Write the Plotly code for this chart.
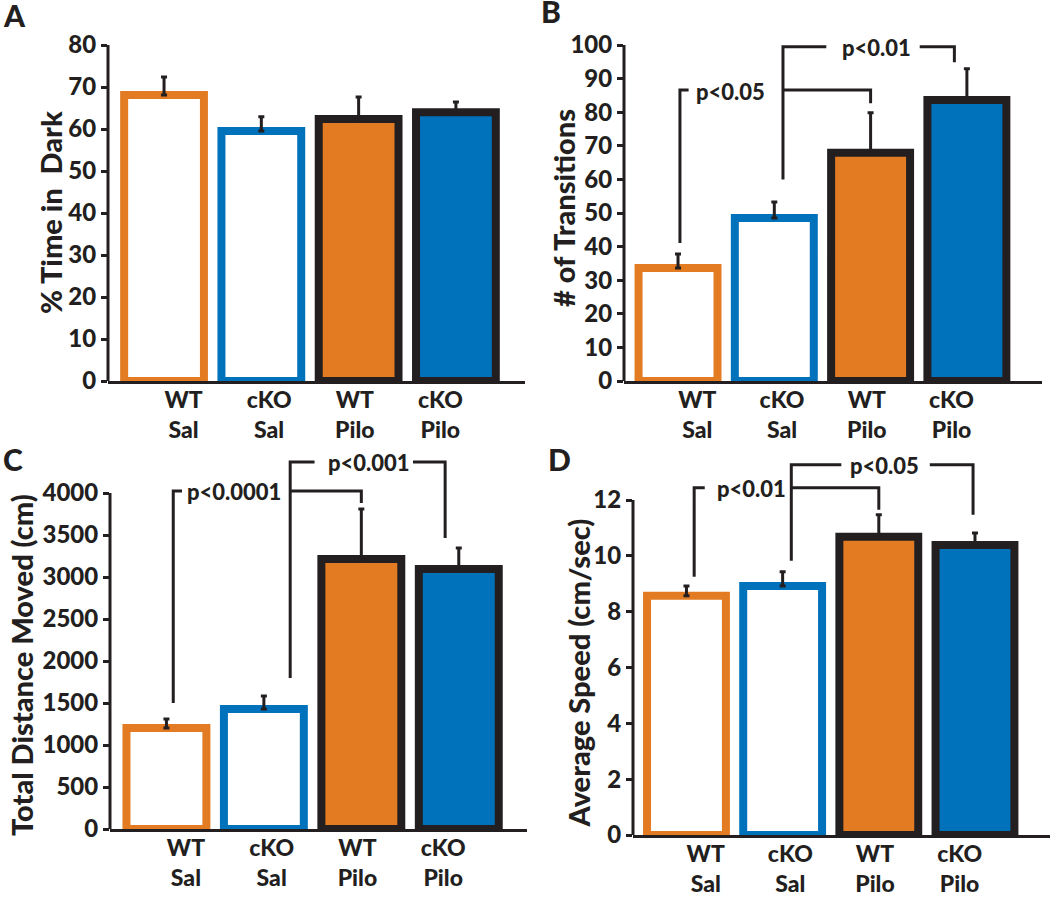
import plotly.graph_objects as go

# groups, left to right
groups = ["WT<br>Sal", "cKO<br>Sal", "WT<br>Pilo", "cKO<br>Pilo"]

# A: light/dark box
pct_time_dark = [68.1, 59.5, 62.4, 64.0]
pct_time_dark_sem = [4.3, 3.4, 5.2, 2.4]

# B: transitions
transitions = [33.6, 48.5, 67.9, 83.6]
transitions_sem = [4.2, 4.8, 11.9, 9.3]

# C: open field distance
distance_cm = [1202, 1429, 3214, 3095]
distance_sem = [108, 154, 596, 250]

# D: open field speed
speed_cm_s = [8.57, 8.92, 10.68, 10.39]
speed_sem = [0.35, 0.51, 0.79, 0.43]

# significance brackets: polylines in data units, plus their labels
brackets_B = [([0.02, 0.02, 0.11], [41.1, 86.6, 86.6]),
              ([1.09, 1.09, 1.54], [60.0, 99.5, 99.5]),
              ([1.09, 2.0, 2.0], [86.6, 86.6, 82.7]),
              ([2.51, 2.87, 2.87], [99.5, 99.5, 94.9])]
pvals_B = [("p<0.05", 0.55, 86.6), ("p<0.01", 2.06, 99.5)]

brackets_C = [([0.07, 0.07, 0.16], [1500, 4024, 4024]),
              ([1.27, 1.27, 1.52], [1798, 4369, 4369]),
              ([1.27, 2.0, 2.0], [4024, 4024, 3881]),
              ([2.53, 2.86, 2.86], [4369, 4369, 3464])]
pvals_C = [("p<0.0001", 0.69, 4024), ("p<0.001", 2.08, 4369)]

brackets_D = [([0.08, 0.08, 0.19], [9.25, 12.44, 12.44]),
              ([1.09, 1.09, 1.61], [9.82, 13.26, 13.26]),
              ([1.09, 2.0, 2.0], [12.44, 12.44, 11.65]),
              ([2.53, 2.98, 2.98], [13.26, 13.26, 11.47])]
pvals_D = [("p<0.01", 0.68, 12.44), ("p<0.05", 2.06, 13.26)]

W, H = 1050, 898
ORANGE = "#E27B22"
BLUE = "#0071BB"
INK = "#231F20"
FONT = "Lato"

fill_colors = ["white", "white", ORANGE, BLUE]
edge_colors = [ORANGE, BLUE, INK, INK]

# pixel layout of each panel (axis corner, top tick, title/letter spots)
panels = [
    dict(letter="A", vals=pct_time_dark, errs=pct_time_dark_sem,
         ytitle="% Time in  Dark", yticks=list(range(0, 81, 10)), rtop=80,
         left=108, right=525, base=381, top=45, xr=(-0.576, 3.71),
         title_x=50, title_dy=0, brackets=[], pvals=[], lab=(1, 15)),
    dict(letter="B", vals=transitions, errs=transitions_sem,
         ytitle="# of Transitions", yticks=list(range(0, 101, 10)), rtop=102,
         left=624, right=1042, base=381, top=45, xr=(-0.561, 3.78),
         title_x=563, title_dy=-5, brackets=brackets_B, pvals=pvals_B, lab=(539, 11)),
    dict(letter="C", vals=distance_cm, errs=distance_sem,
         ytitle="Total Distance Moved (cm)", yticks=list(range(0, 4001, 500)), rtop=4500,
         left=110, right=527, base=829, top=493, xr=(-0.579, 3.70),
         title_x=21, title_dy=4, brackets=brackets_C, pvals=pvals_C, lab=(1, 459)),
    dict(letter="D", vals=speed_cm_s, errs=speed_sem,
         ytitle="Average Speed (cm/sec)", yticks=list(range(0, 13, 2)), rtop=13.5,
         left=633, right=1050, base=835, top=500, xr=(-0.556, 3.78),
         title_x=578, title_dy=6, brackets=brackets_D, pvals=pvals_D, lab=(546, 459)),
]

fig = go.Figure()
layout = {}

for i, p in enumerate(panels, start=1):
    xa = "x" if i == 1 else f"x{i}"
    ya = "y" if i == 1 else f"y{i}"
    tick_top = p["yticks"][-1]
    px_per_unit = (p["base"] - p["top"]) / tick_top
    dom_top_px = p["base"] - p["rtop"] * px_per_unit

    fig.add_trace(go.Bar(
        x=list(range(len(groups))), y=p["vals"], width=0.82,
        marker=dict(color=fill_colors, line=dict(color=edge_colors, width=8)),
        error_y=dict(type="data", array=p["errs"], arrayminus=[0] * len(groups),
                     symmetric=False, color=INK, thickness=3, width=3),
        cliponaxis=False, showlegend=False, hoverinfo="skip",
        xaxis=xa, yaxis=ya,
    ))

    for bx, by in p["brackets"]:
        fig.add_trace(go.Scatter(x=bx, y=by, mode="lines",
                                 line=dict(color=INK, width=3),
                                 showlegend=False, hoverinfo="skip",
                                 xaxis=xa, yaxis=ya))
    for txt, tx, ty in p["pvals"]:
        fig.add_annotation(x=tx, y=ty, xref=xa, yref=ya, text=txt,
                           showarrow=False, yanchor="middle", yshift=-1,
                           font=dict(size=22, color=INK))

    # y axis line only up to the top tick
    fig.add_shape(type="line", xref=f"{xa} domain", yref=ya,
                  x0=0, x1=0, y0=0, y1=tick_top,
                  line=dict(color=INK, width=3))

    # y title centred on the ticked part of the axis
    fig.add_annotation(x=p["title_x"] / W,
                       y=1 - ((p["base"] + p["top"]) / 2 + p["title_dy"]) / H,
                       xref="paper", yref="paper", text=p["ytitle"],
                       textangle=-90, showarrow=False,
                       xanchor="center", yanchor="middle",
                       font=dict(size=29, color=INK))

    layout["xaxis" if i == 1 else f"xaxis{i}"] = dict(
        domain=[p["left"] / W, p["right"] / W], range=list(p["xr"]),
        anchor=ya, showline=True, linecolor=INK, linewidth=3,
        tickvals=[0.2 + 0.88 * k for k in range(len(groups))], ticktext=groups,
        ticks="", ticklabelstandoff=-4,
        showgrid=False, zeroline=False, automargin=False,
        tickfont=dict(size=23, color=INK),
    )
    layout["yaxis" if i == 1 else f"yaxis{i}"] = dict(
        domain=[1 - p["base"] / H, 1 - dom_top_px / H], range=[0, p["rtop"]],
        anchor=xa, showline=False, ticks="outside", ticklen=6, tickwidth=3,
        tickcolor=INK, tickvals=p["yticks"], showgrid=False, zeroline=False,
        automargin=False, tickfont=dict(size=24, color=INK),
    )

    fig.add_annotation(x=p["lab"][0] / W, y=1 - p["lab"][1] / H,
                       xref="paper", yref="paper", text=p["letter"],
                       showarrow=False, xanchor="left", yanchor="middle",
                       font=dict(size=30, color=INK))

fig.update_layout(
    **layout,
    width=W, height=H,
    margin=dict(l=0, r=0, t=0, b=0),
    paper_bgcolor="white", plot_bgcolor="white",
    font=dict(family=FONT, weight=900, color=INK),
)

fig.write_html("out.html", config={"displayModeBar": False},
               post_script="document.body.style.margin = '0px';")
